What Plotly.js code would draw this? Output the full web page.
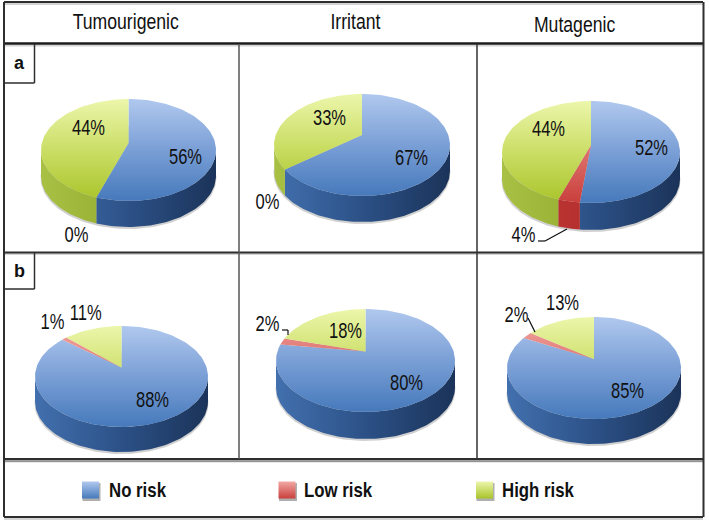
<!DOCTYPE html>
<html>
<head>
<meta charset="utf-8">
<script src="https://cdn.plot.ly/plotly-3.0.1.min.js"></script>
<style>html,body{margin:0;padding:0;background:#fff}#chart{width:709px;height:526px}</style>
</head>
<body>
<div id="chart"></div>
<script>
// ---- data ----
const endpoints = ['Tumourigenic', 'Irritant', 'Mutagenic'];
const rowNames = ['a', 'b'];
const riskNames = ['No risk', 'Low risk', 'High risk'];
const noRiskA = [56, 67, 52];
const lowRiskA = [0, 0, 4];
const highRiskA = [44, 33, 44];
const noRiskB = [88, 80, 85];
const lowRiskB = [1, 2, 2];
const highRiskB = [11, 18, 13];

// ---- layout of the six pies (pixels of the page) ----
const W = 709, H = 526;
const pieBoxes = [
  {cx: 128.5, cy: 150, rx: 87.5, ry: 51, depth: 26, tip: 7},
  {cx: 362, cy: 145, rx: 88, ry: 51, depth: 26, tip: 10},
  {cx: 591, cy: 152, rx: 89, ry: 51, depth: 27, tip: 7},
  {cx: 121.5, cy: 376.5, rx: 86.5, ry: 50.5, depth: 25, tip: 9},
  {cx: 365.5, cy: 360.5, rx: 89.5, ry: 51.5, depth: 27, tip: 9},
  {cx: 594, cy: 368, rx: 87, ry: 51, depth: 25, tip: 9}
];
// label centres: [no risk, low risk, high risk]
const labelSpots = [
  [[185, 157], [76, 235], [88, 128]],
  [[411, 158], [267, 202], [329, 118]],
  [[651, 148], [523, 235], [548, 129]],
  [[152, 400], [52, 322], [85, 313]],
  [[406, 383], [267, 324], [345, 331]],
  [[627, 391], [516, 315], [562, 303]]
];
const leaders = [
  [[538, 241], [545, 241], [567, 229]],
  [[282, 330], [288, 330], [288, 335]],
  [[528, 318], [535, 332]]
];
const titleSpots = [[126, 22], [355, 22], [574, 25]];
const legendSpots = [[90.5, 490], [287, 490], [484.5, 490]];
const legendTextX = [109, 304, 502];

const faceScales = [
  [[0, '#4679bb'], [0.5, '#7a9fd6'], [1, '#b0c8ee']],
  [[0, '#c93f3c'], [0.5, '#dd706c'], [1, '#f2a8a4']],
  [[0, '#a9c42a'], [0.5, '#cbde66'], [1, '#ecf6ab']]
];
const wallScales = [
  [[0, '#4270ae'], [0.5, '#2c5187'], [1, '#1b3359']],
  [[0, '#c23a38'], [1, '#a52422']],
  [[0, '#a8c044'], [1, '#7f9a1e']]
];
const swatchColors = [['#b0c8ee', '#4679bb'], ['#f2a8a4', '#c93f3c'], ['#ecf6ab', '#a9c42a']];

const FONT = '"Liberation Sans",Arial,sans-serif';
const px = x => x / W, py = y => 1 - y / H;
const rad = d => d * Math.PI / 180;

const shares = [
  [noRiskA[0], lowRiskA[0], highRiskA[0]],
  [noRiskA[1], lowRiskA[1], highRiskA[1]],
  [noRiskA[2], lowRiskA[2], highRiskA[2]],
  [noRiskB[0], lowRiskB[0], highRiskB[0]],
  [noRiskB[1], lowRiskB[1], highRiskB[1]],
  [noRiskB[2], lowRiskB[2], highRiskB[2]]
];

const traces = [], layout = {
  width: W, height: H, margin: {l: 0, r: 0, t: 0, b: 0},
  paper_bgcolor: '#fff', plot_bgcolor: 'rgba(0,0,0,0)', showlegend: false,
  annotations: [], shapes: []
};

function arc(a0, a1) {
  const out = [];
  const n = Math.max(2, Math.ceil((a1 - a0) / 2));
  for (let i = 0; i <= n; i++) out.push(a0 + (a1 - a0) * i / n);
  return out;
}

shares.forEach((vals, p) => {
  const b = pieBoxes[p];
  const s = p === 0 ? '' : String(p + 1);
  const pad = 1.1, dy = b.depth / b.ry;
  layout['xaxis' + s] = {
    domain: [px(b.cx - pad * b.rx), px(b.cx + pad * b.rx)], range: [-pad, pad],
    visible: false, fixedrange: true, anchor: 'y' + s
  };
  layout['yaxis' + s] = {
    domain: [py(b.cy + (pad + dy) * b.ry), py(b.cy - pad * b.ry)], range: [-pad - dy, pad],
    visible: false, fixedrange: true, anchor: 'x' + s
  };
  const xa = 'x' + s, ya = 'y' + s;

  // soft shadow
  const sh = arc(0, 360);
  traces.push({
    type: 'scatter', mode: 'lines', xaxis: xa, yaxis: ya, hoverinfo: 'skip',
    x: sh.map(a => Math.sin(rad(a)) * 1.005),
    y: sh.map(a => Math.cos(rad(a)) - dy - 2 / b.ry),
    fill: 'toself', fillcolor: 'rgba(120,120,120,0.35)', line: {width: 0}
  });

  // walls, then faces, clockwise from twelve o'clock
  let start = 0;
  const spans = vals.map(v => { const r = [start, start + v * 3.6]; start = r[1]; return r; });
  spans.forEach((sp, i) => {
    const a0 = Math.max(sp[0], 90), a1 = Math.min(sp[1], 270);
    if (a1 <= a0) return;
    const as = arc(a0, a1), xs = as.map(a => Math.sin(rad(a))), ys = as.map(a => Math.cos(rad(a)));
    traces.push({
      type: 'scatter', mode: 'lines', xaxis: xa, yaxis: ya, hoverinfo: 'skip',
      x: xs.concat(xs.slice().reverse()),
      y: ys.concat(ys.map(v => v - dy).reverse()),
      fill: 'toself', line: {width: 0},
      fillgradient: {type: 'horizontal', start: -1, stop: 1, colorscale: wallScales[i]}
    });
  });
  spans.forEach((sp, i) => {
    if (sp[1] <= sp[0]) return;
    const as = arc(sp[0], sp[1]), tip = b.tip / b.ry;
    traces.push({
      type: 'scatter', mode: 'lines', xaxis: xa, yaxis: ya,
      name: riskNames[i], text: vals[i] + '%', hoverinfo: 'name+text',
      x: [0].concat(as.map(a => Math.sin(rad(a))), [0]),
      y: [tip].concat(as.map(a => Math.cos(rad(a))), [tip]),
      fill: 'toself', line: {width: 0},
      fillgradient: {type: 'vertical', start: -1, stop: 1, colorscale: faceScales[i]}
    });
  });

  // percentage labels
  vals.forEach((v, i) => {
    const spot = labelSpots[p][i];
    layout.annotations.push({
      xref: 'paper', yref: 'paper', x: px(spot[0]), y: py(spot[1]),
      xanchor: 'center', yanchor: 'middle', showarrow: false, text: v + '%',
      font: {family: FONT, size: 21.5, color: '#111'}
    });
  });
});

// legend row: its own hidden page-sized axes
layout.xaxis7 = {domain: [0, 1], range: [0, W], visible: false, fixedrange: true, anchor: 'y7'};
layout.yaxis7 = {domain: [0, 1], range: [H, 0], visible: false, fixedrange: true, anchor: 'x7'};
riskNames.forEach((name, i) => {
  traces.push({
    type: 'scatter', mode: 'markers', xaxis: 'x7', yaxis: 'y7', hoverinfo: 'skip',
    x: [legendSpots[i][0] + 1], y: [legendSpots[i][1] + 2],
    marker: {symbol: 'square', size: 18, color: 'rgba(110,110,110,0.55)'}
  });
  traces.push({
    type: 'scatter', mode: 'markers', xaxis: 'x7', yaxis: 'y7', hoverinfo: 'skip',
    x: [legendSpots[i][0]], y: [legendSpots[i][1]],
    marker: {
      symbol: 'square', size: 17, color: swatchColors[i][0],
      gradient: {type: 'vertical', color: swatchColors[i][1]},
      line: {width: 0}
    }
  });
  traces.push({
    type: 'scatter', mode: 'text', xaxis: 'x7', yaxis: 'y7', hoverinfo: 'skip',
    x: [legendTextX[i]], y: [legendSpots[i][1] + 1.5], text: [name], textposition: 'middle right',
    textfont: {family: FONT, size: 21, color: '#111', weight: 700}
  });
});

// column titles and row tags
endpoints.forEach((t, i) => layout.annotations.push({
  xref: 'paper', yref: 'paper', x: px(titleSpots[i][0]), y: py(titleSpots[i][1]),
  xanchor: 'center', yanchor: 'middle', showarrow: false, text: t,
  font: {family: FONT, size: 21.5, color: '#111'}
}));
[[19, 63], [19, 271]].forEach((c, i) => layout.annotations.push({
  xref: 'paper', yref: 'paper', x: px(c[0]), y: py(c[1]),
  xanchor: 'center', yanchor: 'middle', showarrow: false, text: '<b>' + rowNames[i] + '</b>',
  font: {family: FONT, size: 18, color: '#111'}
}));

// frame lines
function line(x0, y0, x1, y1, color, width) {
  layout.shapes.push({
    type: 'line', xref: 'paper', yref: 'paper', layer: 'above',
    x0: px(x0), y0: py(y0), x1: px(x1), y1: py(y1), line: {color, width}
  });
}
[[4, 45.5, 703], [4, 254, 703], [4, 461.5, 703], [4, 519, 703], [4, 4, 703]].forEach(h =>
  line(h[0], h[1], h[2], h[1], '#d4d4d4', 2));
const ink = '#2e2e2e';
line(4, 2, 703, 2, ink, 2);
line(4, 43.5, 703, 43.5, '#1c1c1c', 2.5);
line(4, 252.5, 703, 252.5, ink, 2);
line(4, 459, 703, 459, ink, 2);
line(4, 461, 703, 461, '#555', 1);
line(4, 517, 703, 517, ink, 2);
line(4, 2, 4, 517, ink, 2);
line(703.5, 2, 703.5, 517, ink, 2);
line(239, 44, 239, 459, '#555', 1.5);
line(477, 44, 477, 459, '#333', 1.5);
line(4, 83, 34.5, 83, ink, 1.5);
line(34.5, 44, 34.5, 83, ink, 1.5);
line(4, 289, 34.5, 289, ink, 1.5);
line(34.5, 253, 34.5, 289, ink, 1.5);
leaders.forEach(l => {
  for (let i = 0; i < l.length - 1; i++) line(l[i][0], l[i][1], l[i + 1][0], l[i + 1][1], '#111', 1.2);
});

// The reference type is condensed: narrow the real text glyphs to match.
function condense(el, factor) {
  const len = el.getComputedTextLength();
  el.setAttribute('textLength', (len * factor).toFixed(1));
  el.setAttribute('lengthAdjust', 'spacingAndGlyphs');
}
Plotly.newPlot('chart', traces, layout, {staticPlot: true, displayModeBar: false}).then(gd => {
  gd.querySelectorAll('.annotation-text').forEach(el => {
    if (el.querySelector('tspan')) return;
    condense(el, el.textContent.endsWith('%') ? 0.77 : 0.82);
  });
  gd.querySelectorAll('.textpoint text').forEach(el => condense(el, 0.80));
});
</script>
</body>
</html>
